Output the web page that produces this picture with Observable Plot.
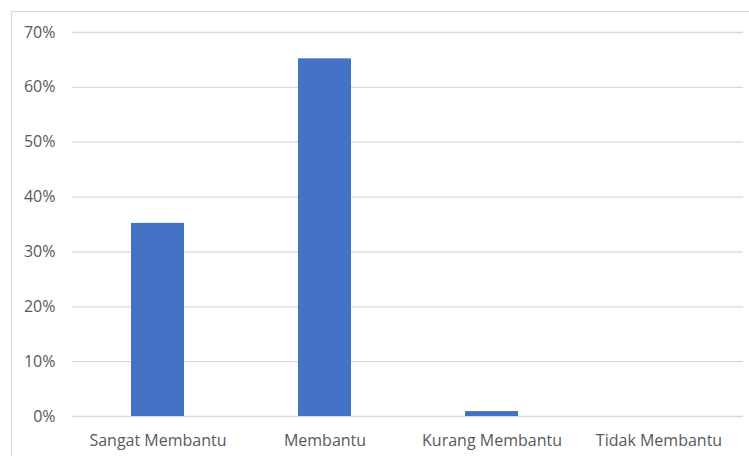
<!DOCTYPE html>
<html>
<head>
<meta charset="utf-8">
<script src="https://cdn.jsdelivr.net/npm/d3@7"></script>
<script src="https://cdn.jsdelivr.net/npm/@observablehq/plot@0.6"></script>
<style>
  html, body { margin: 0; padding: 0; background: #fff; overflow: hidden; }
  #wrap { position: relative; width: 749px; height: 456px; }
  #frame { position: absolute; left: 11px; top: 11px; width: 800px; height: 500px; border: 1px solid #d9d9d9; box-sizing: border-box; }
  #chart { position: absolute; left: 0; top: 0; }
</style>
</head>
<body>
<div id="wrap"><div id="frame"></div><div id="chart"></div></div>
<script>
const categories = ["Sangat Membantu", "Membantu", "Kurang Membantu", "Tidak Membantu"];
const values = [0.352, 0.652, 0.009, 0];
const yTicks = [0, 0.1, 0.2, 0.3, 0.4, 0.5, 0.6, 0.7];

const data = categories.map((c, i) => ({category: c, value: values[i]}));

const chart = Plot.plot({
  width: 749,
  height: 456,
  marginLeft: 72,
  marginRight: 6,
  marginTop: 32,
  marginBottom: 40,
  style: {fontFamily: "'Open Sans', sans-serif", fontSize: "16px", color: "#595959", background: "transparent"},
  x: {domain: categories, paddingInner: 0.684, paddingOuter: 0.342, label: null},
  y: {domain: [0, 0.7], ticks: yTicks, label: null},
  marks: [
    Plot.gridY(yTicks, {stroke: "#d9d9d9", strokeOpacity: 1, strokeWidth: 1.3}),
    Plot.barY(data, {x: "category", y: "value", fill: "#4472c4"}),
    Plot.axisY(yTicks, {tickSize: 0, tickPadding: 17, tickFormat: d3.format(".0%"), fill: "#595959", fontSize: 16}),
    Plot.axisX({tickSize: 0, tickPadding: 18, fill: "#595959", fontSize: 16, style: {letterSpacing: "0.3px"}})
  ]
});
document.getElementById("chart").appendChild(chart);
</script>
</body>
</html>
